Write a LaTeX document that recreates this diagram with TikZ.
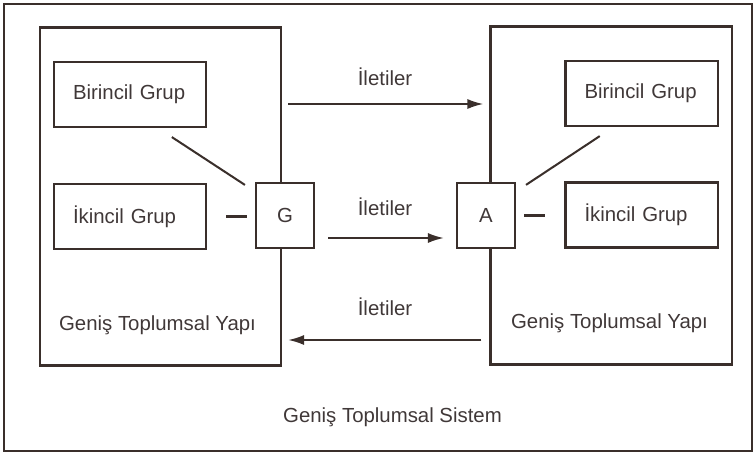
\documentclass[tikz,border=0pt]{standalone}
\usepackage{fontspec}
\setmainfont{Liberation Sans}
\usetikzlibrary{arrows.meta}
\definecolor{ink}{HTML}{3A2F2B}
\definecolor{txt}{HTML}{403838}
\begin{document}
\begin{tikzpicture}[line width=1.15pt, color=ink, text=txt, font=\fontsize{11.6}{13}\selectfont,
	grp/.style={draw,rectangle,minimum width=3.04cm,minimum height=1.3cm,
		text width=2.28cm,inner xsep=0.38cm,inner ysep=0pt,align=left},
	sqr/.style={draw,fill=white,rectangle,minimum width=1.16cm,minimum height=1.3cm,inner sep=0pt},
	yapi/.style={draw,rectangle,minimum width=4.82cm,minimum height=6.76cm,inner sep=0pt},
	msg/.style={-{Latex[length=3.2mm,width=2mm]}}]
	\useasboundingbox (0,0) rectangle (15.1,9.08);
	\draw (0.08,0.06) rectangle (15.04,9.0);
	\node[yapi] (lyapi) at (3.21,5.15) {};
	\node[yapi] (ryapi) at (12.22,5.17) {};
	\node[grp] (lbir) at (2.6,7.19) {Birincil Grup};
	\node[grp] (lik) at (2.6,4.75) {İkincil Grup};
	\node[sqr] (G) at (5.7,4.77) {G};
	\node[sqr] (A) at (9.72,4.77) {A};
	\node[grp] (rbir) at (12.83,7.21) {Birincil Grup};
	\node[grp] (rik) at (12.83,4.78) {İkincil Grup};
	\node (lyapit) at (3.15,2.58) {Geniş Toplumsal Yapı};
	\node (ryapit) at (12.19,2.62) {Geniş Toplumsal Yapı};
	\node (sistem) at (7.85,0.74) {Geniş Toplumsal Sistem};
	\draw[shorten <=0.33cm, shorten >=0.24cm] ([xshift=0.56cm]lbir.south) -- ([yshift=0.48cm]G.west);
	\draw[shorten <=0.33cm, shorten >=0.24cm] ([xshift=-0.56cm]rbir.south) -- ([yshift=0.48cm]A.east);
	\draw[shorten <=0.38cm, shorten >=0.16cm] (lik.east) -- (lik.east -| G.west);
	\draw[shorten <=0.16cm, shorten >=0.38cm] (A.east) -- (A.east -| rik.west);
	% iletiler
	\draw[msg, shorten <=0.12cm, shorten >=0.12cm] ([yshift=1.85cm]lyapi.east) -- ([yshift=1.85cm]lyapi.east -| ryapi.west);
	\draw[msg, shorten <=0.26cm, shorten >=0.24cm] ([yshift=-0.45cm]G.east) -- ([yshift=-0.45cm]G.east -| A.west);
	\draw[msg, shorten <=0.16cm, shorten >=0.12cm] ([yshift=-2.89cm]ryapi.west) -- ([yshift=-2.89cm]ryapi.west -| lyapi.east);
	\node (ilt1) at (7.7,7.54) {İletiler};
	\node (ilt2) at (7.7,4.94) {İletiler};
	\node (ilt3) at (7.7,2.94) {İletiler};
\end{tikzpicture}
\end{document}
